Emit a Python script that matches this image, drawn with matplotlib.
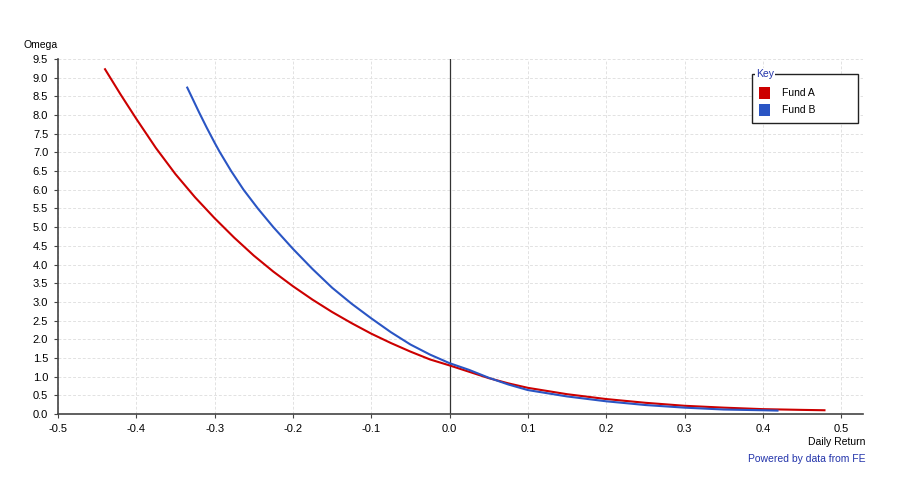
import numpy as np
import matplotlib
matplotlib.use("Agg")
import matplotlib.pyplot as plt
from matplotlib.patches import Rectangle

plt.rcParams['font.family'] = ['Liberation Sans', 'DejaVu Sans']

# values
fund_a_x = [-0.4406, -0.42, -0.4, -0.375, -0.35, -0.325, -0.3, -0.275, -0.25, -0.225, -0.2,
            -0.175, -0.15, -0.125, -0.1, -0.075, -0.05, -0.025, 0.0, 0.025, 0.05, 0.075,
            0.1, 0.15, 0.2, 0.25, 0.3, 0.35, 0.4, 0.45, 0.48]
fund_a_y = [9.25, 8.55, 7.90, 7.12, 6.42, 5.80, 5.24, 4.72, 4.24, 3.81, 3.42,
            3.06, 2.73, 2.43, 2.15, 1.90, 1.67, 1.46, 1.30, 1.13, 0.96, 0.82,
            0.70, 0.53, 0.40, 0.30, 0.22, 0.17, 0.13, 0.11, 0.10]

fund_b_x = [-0.3355, -0.33, -0.32, -0.31, -0.3, -0.2937, -0.2788, -0.263, -0.2448, -0.225,
            -0.2, -0.175, -0.15, -0.125, -0.1, -0.075, -0.05, -0.025, 0.0, 0.025, 0.05,
            0.075, 0.1, 0.15, 0.2, 0.25, 0.3, 0.35, 0.4, 0.42]
fund_b_y = [8.76, 8.52, 8.08, 7.66, 7.26, 7.02, 6.50, 6.00, 5.50, 5.00,
            4.42, 3.88, 3.38, 2.95, 2.56, 2.19, 1.86, 1.59, 1.36, 1.18, 0.97,
            0.79, 0.64, 0.47, 0.34, 0.24, 0.17, 0.12, 0.10, 0.09]

x_ticks = np.round(np.arange(-0.5, 0.51, 0.1), 1)
y_ticks = np.round(np.arange(0, 9.51, 0.5), 1)

red = '#cc0000'
blue = '#2a55c4'

fig = plt.figure(figsize=(9, 5), dpi=100)
ax = fig.add_axes([0.0644, 0.172, 0.8946, 0.71])

ax.plot(fund_a_x, fund_a_y, color=red, lw=1.5, solid_capstyle='butt', zorder=3)
ax.plot(fund_b_x, fund_b_y, color=blue, lw=1.5, solid_capstyle='butt', zorder=3)
ax.axvline(0, color='#333333', lw=0.9, zorder=2)

ax.set_xlim(-0.5, 0.528)
ax.set_ylim(0, 9.5)
ax.set_xticks(x_ticks)
ax.set_yticks(y_ticks)
ax.set_xticklabels([f'{v:.1f}' if v != 0 else '0.0' for v in x_ticks])
ax.set_yticklabels([f'{v:.1f}' for v in y_ticks])
ax.tick_params(labelsize=8, length=3, width=0.8, color='#444444', pad=4)
ax.grid(True, color='#e2e2e2', lw=0.7, ls=(0, (3, 2)))
ax.set_axisbelow(True)
for s in ['top', 'right']:
    ax.spines[s].set_visible(False)
for s in ['left', 'bottom']:
    ax.spines[s].set_color('#444444')
    ax.spines[s].set_linewidth(1.2)

fig.text(24 / 900, 1 - 45 / 500, 'Omega', fontsize=7.5, va='center', ha='left')
fig.text(865 / 900, 1 - 442 / 500, 'Daily Return', fontsize=7.5, va='center', ha='right')
fig.text(865 / 900, 1 - 459 / 500, 'Powered by data from FE', fontsize=7.5,
         va='center', ha='right', color='#2233aa')

# key box
fig.patches.append(Rectangle((752 / 900, 1 - 123 / 500), 106 / 900, 49 / 500,
                             transform=fig.transFigure, fill=True, facecolor='white',
                             edgecolor='#222222', lw=1.0, zorder=5))
fig.text(756 / 900, 1 - 74 / 500, 'Key', fontsize=7.5, color='#2233aa', va='center',
         ha='left', zorder=6, bbox=dict(facecolor='white', edgecolor='none', pad=0.5))
for i, (name, c) in enumerate([('Fund A', red), ('Fund B', blue)]):
    yc = 1 - (93 + 17 * i) / 500
    fig.patches.append(Rectangle((759 / 900, yc - 5.5 / 500), 11 / 900, 11 / 500,
                                 transform=fig.transFigure, facecolor=c,
                                 edgecolor='none', zorder=6))
    fig.text(782 / 900, yc, name, fontsize=7.5, va='center', ha='left', zorder=6)

fig.savefig('out.png', dpi=100)
